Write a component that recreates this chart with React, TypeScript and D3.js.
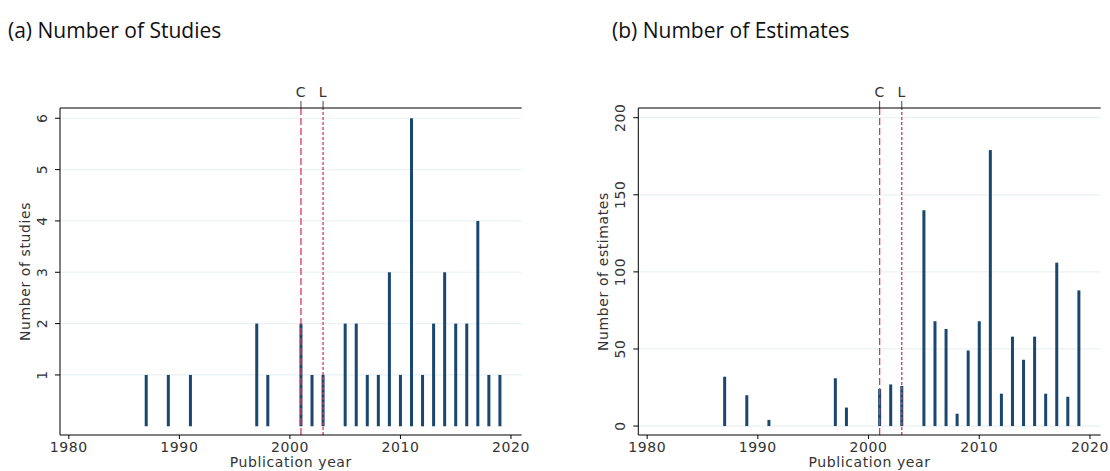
import React from "react";
import * as d3 from "d3";

// Publication years and counts per year
const studyYears = [1987, 1989, 1991, 1997, 1998, 2001, 2002, 2003, 2005, 2006, 2007, 2008, 2009, 2010, 2011, 2012, 2013, 2014, 2015, 2016, 2017, 2018, 2019];
const studyCounts = [1, 1, 1, 2, 1, 2, 1, 1, 2, 2, 1, 1, 3, 1, 6, 1, 2, 3, 2, 2, 4, 1, 1];

const estimateYears = [1987, 1989, 1991, 1997, 1998, 2001, 2002, 2003, 2005, 2006, 2007, 2008, 2009, 2010, 2011, 2012, 2013, 2014, 2015, 2016, 2017, 2018, 2019];
const estimateCounts = [32, 20, 4, 31, 12, 24, 27, 26, 140, 68, 63, 8, 49, 68, 179, 21, 58, 43, 58, 21, 106, 19, 88];

const xTicks = [1980, 1990, 2000, 2010, 2020];
const studyTicks = [1, 2, 3, 4, 5, 6];
const estimateTicks = [0, 50, 100, 150, 200];

// Reference events marked on the year axis
const markers = [
  { label: "C", year: 2001, dash: "7,3" },
  { label: "L", year: 2003, dash: "3,2" },
];

const BAR = "#1a476f";
const MARK = "#d8385f";
const AXIS_STYLE = {
  fontFamily: "'DejaVu Sans', 'Noto Sans', sans-serif",
  fontSize: 14,
  letterSpacing: 0.6,
  fill: "#333",
};

type PanelProps = {
  left: number;
  right: number;
  years: number[];
  counts: number[];
  yDomain: [number, number];
  yTicks: number[];
  yTitle: string;
};

function Panel({ left, right, years, counts, yDomain, yTicks, yTitle }: PanelProps) {
  const top = 108;
  const bottom = 435;
  const x = d3.scaleLinear().domain([1979.2, 2020.97]).range([left, right]);
  const y = d3.scaleLinear().domain(yDomain).range([bottom, top]);
  const barW = 3;
  return (
    <g>
      {yTicks.map((t) => (
        <line key={"g" + t} x1={left} x2={right} y1={y(t)} y2={y(t)} stroke="#eaf2f3" strokeWidth={1.2} />
      ))}
      {years.map((yr, i) => (
        <rect key={yr} x={x(yr) - barW / 2} width={barW} y={y(counts[i])} height={y(0) - y(counts[i])} fill={BAR} />
      ))}
      {markers.map((m) => {
        const mx = x(m.year);
        return (
          <g key={m.label}>
            <line x1={mx} x2={mx} y1={bottom} y2={top} stroke={MARK} strokeWidth={1.3} strokeDasharray={m.dash} />
            <line x1={mx} x2={mx} y1={top} y2={101} stroke="#444" strokeWidth={1} />
            <text x={mx} y={97} textAnchor="middle" style={AXIS_STYLE}>
              {m.label}
            </text>
          </g>
        );
      })}
      {/* frame: left, bottom and top rules */}
      <line x1={left} x2={right} y1={top} y2={top} stroke="#000" strokeWidth={1} />
      <line x1={left} x2={right} y1={bottom} y2={bottom} stroke="#000" strokeWidth={1} />
      <line x1={left} x2={left} y1={top} y2={bottom} stroke="#000" strokeWidth={1} />
      {yTicks.map((t) => (
        <g key={"t" + t}>
          <line x1={left - 5} x2={left} y1={y(t)} y2={y(t)} stroke="#000" />
          <text
            transform={`translate(${left - 18},${y(t)}) rotate(-90)`}
            textAnchor="middle"
            dy="0.36em"
            style={AXIS_STYLE}
          >
            {t}
          </text>
        </g>
      ))}
      {xTicks.map((t) => (
        <g key={"x" + t}>
          <line x1={x(t)} x2={x(t)} y1={bottom} y2={bottom + 4} stroke="#000" />
          <text x={x(t)} y={bottom + 17} textAnchor="middle" style={AXIS_STYLE}>
            {t}
          </text>
        </g>
      ))}
      <text x={(left + right) / 2} y={467} textAnchor="middle" style={AXIS_STYLE}>
        Publication year
      </text>
      <text
        transform={`translate(${left - 30},${(top + bottom) / 2}) rotate(-90)`}
        textAnchor="middle"
        style={AXIS_STYLE}
      >
        {yTitle}
      </text>
    </g>
  );
}

export default function App() {
  return (
    <svg width={1110} height={471} style={{ position: "absolute", left: 0, top: 0, background: "#fff" }}>
      <text x={8} y={38} fontFamily="'Open Sans', sans-serif" fontSize={21} fill="#111">
        (a) Number of Studies
      </text>
      <text x={612} y={38} fontFamily="'Open Sans', sans-serif" fontSize={21} fill="#111">
        (b) Number of Estimates
      </text>
      <Panel
        left={60}
        right={521.7}
        years={studyYears}
        counts={studyCounts}
        yDomain={[-0.17, 6.2]}
        yTicks={studyTicks}
        yTitle="Number of studies"
      />
      <Panel
        left={638.3}
        right={1100.7}
        years={estimateYears}
        counts={estimateCounts}
        yDomain={[-5.8, 206.3]}
        yTicks={estimateTicks}
        yTitle="Number of estimates"
      />
    </svg>
  );
}
